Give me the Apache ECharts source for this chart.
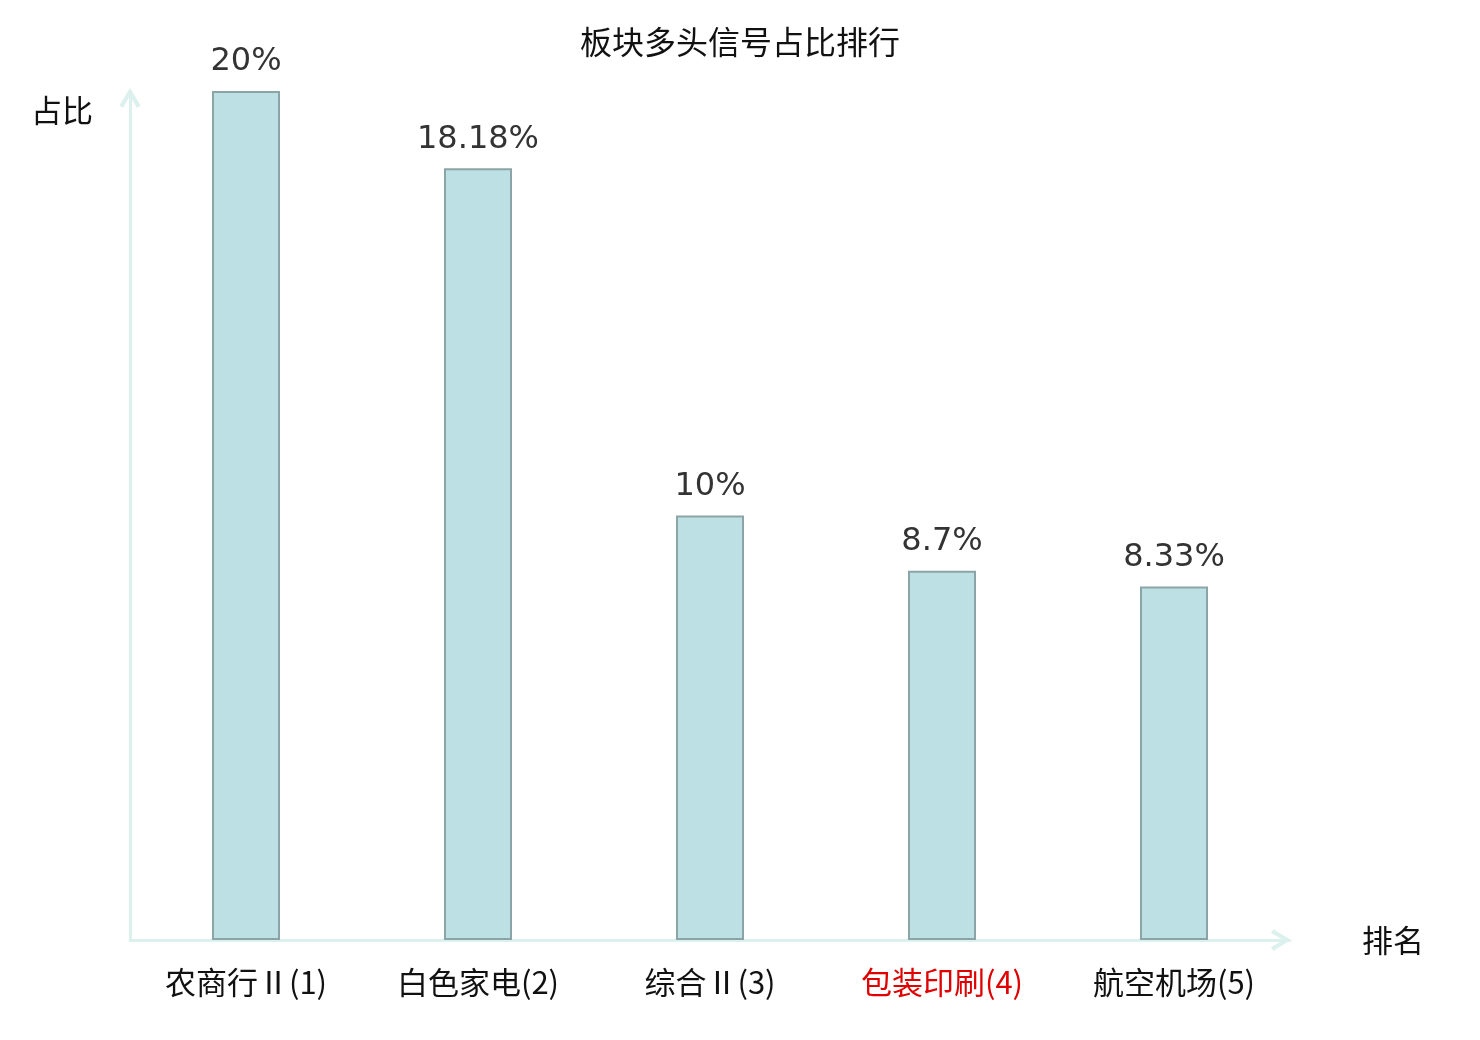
<!DOCTYPE html>
<html style="height: 100%;width:100%">

<head>
    <meta charset="utf-8">
    <style>
        html,
        body {
            margin: 0;
            padding: 0;
            height: 100%;
            width: 100%;
            background: #fff;
        }

        #chart-panel {
            width: 1480px;
            height: 1040px;
        }
    </style>
</head>

<body>
    <div id="chart-panel"></div>
    <script type="text/javascript" src="https://cdn.jsdelivr.net/npm/echarts@6/dist/echarts.min.js"></script>
    <script type="text/javascript">
        // 数据
        var categories = ['农商行Ⅱ(1)', '白色家电(2)', '综合Ⅱ(3)', '包装印刷(4)', '航空机场(5)'];
        var ratios = [20, 18.18, 10, 8.7, 8.33];
        var highlightIndex = 3;

        var cjkFont = '"Noto Sans CJK SC", "Noto Sans", sans-serif';
        var axisColor = '#dcf1ee';
        // 开口箭头（朝上，轴会自动旋转）
        var chevron = 'path://M0,16.5 L10,0 L20,16.5 L16.6,18.8 L10,7.2 L3.4,18.8 Z';

        var dom = document.getElementById('chart-panel');
        var myChart = echarts.init(dom);

        var option = {
            backgroundColor: '#fff',
            animation: false,
            title: {
                text: '板块多头信号占比排行',
                left: 'center',
                top: 21,
                textStyle: {
                    fontFamily: cjkFont,
                    fontSize: 32,
                    fontWeight: 'normal',
                    color: '#111'
                }
            },
            grid: {
                left: 130,
                right: 190,
                top: 91,
                bottom: 100
            },
            xAxis: {
                type: 'category',
                data: categories.map(function (name, i) {
                    return i === highlightIndex ? { value: name, textStyle: { color: '#e00000' } } : name;
                }),
                name: '排名',
                nameLocation: 'end',
                nameGap: 72,
                nameTextStyle: {
                    fontFamily: cjkFont,
                    fontSize: 31,
                    color: '#111'
                },
                axisLine: {
                    lineStyle: { color: axisColor, width: 3 },
                    symbol: ['none', chevron],
                    symbolSize: [24, 20],
                    symbolOffset: [0, -9]
                },
                axisTick: { show: false },
                axisLabel: {
                    fontFamily: cjkFont,
                    fontSize: 31,
                    color: '#111',
                    margin: 27,
                    interval: 0
                }
            },
            yAxis: {
                type: 'value',
                min: 0,
                max: 20,
                name: '占比',
                nameLocation: 'end',
                nameGap: -19,
                nameTextStyle: {
                    fontFamily: cjkFont,
                    fontSize: 31,
                    color: '#111',
                    align: 'right',
                    verticalAlign: 'middle',
                    padding: [0, 37, 0, 0]
                },
                axisLine: {
                    show: true,
                    lineStyle: { color: axisColor, width: 3 },
                    symbol: ['none', chevron],
                    symbolSize: [24, 20],
                    symbolOffset: [0, -7]
                },
                axisTick: { show: false },
                axisLabel: { show: false },
                splitLine: { show: false }
            },
            series: [
                {
                    type: 'bar',
                    data: ratios,
                    barWidth: 68,
                    itemStyle: {
                        color: '#bce0e3',
                        borderColor: '#8ba5a7',
                        borderWidth: 2
                    },
                    label: {
                        show: true,
                        position: 'top',
                        distance: 13,
                        fontFamily: '"DejaVu Sans", sans-serif',
                        fontSize: 32,
                        color: '#333',
                        formatter: function (p) {
                            return p.value + '%';
                        }
                    }
                }
            ]
        };

        myChart.setOption(option);
        window.addEventListener('resize', function () {
            myChart.resize();
        });
    </script>
</body>

</html>
